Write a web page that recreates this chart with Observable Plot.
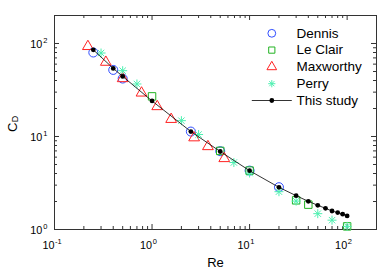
<!DOCTYPE html>
<html>
<head>
<meta charset="utf-8">
<script src="https://cdn.jsdelivr.net/npm/d3@7"></script>
<script src="https://cdn.jsdelivr.net/npm/@observablehq/plot@0.6"></script>
<style>
  html, body { margin: 0; padding: 0; background: white; }
  #chart svg { display: block; }
</style>
</head>
<body>
<div id="chart"></div>
<script>
// ---- data ----
const dennisRe = [0.25, 0.4, 0.5, 2.5, 5, 10, 20];
const dennisCd = [80, 52, 42, 11.3, 6.95, 4.3, 2.85];

const leClairRe = [1, 5, 10, 30, 40, 100];
const leClairCd = [27, 7.0, 4.3, 2.06, 1.85, 1.08];

const maxworthyRe = [0.22, 0.336, 0.5, 0.78, 1.13, 1.57, 2.7, 3.74, 5.5];
const maxworthyCd = [93, 63, 42, 29.4, 21, 15.3, 9.7, 7.8, 5.8];

const perryRe = [0.3, 0.5, 0.7, 2, 3, 6.9, 10, 20, 30, 50, 70, 100];
const perryCd = [79, 51, 36.7, 14.8, 10.5, 5.25, 4.05, 2.55, 2.02, 1.48, 1.26, 1.08];

const studyRe = [0.25, 0.4, 0.5, 1, 2.5, 5, 10, 20, 30, 40, 50, 60, 70, 80, 90, 100];
const studyCd = [85.5, 54, 44.3, 24.1, 11.3, 6.9, 4.29, 2.84, 2.31, 2.01, 1.82, 1.69, 1.58, 1.52, 1.46, 1.40];

const legendNames = ["Dennis", "Le Clair", "Maxworthy", "Perry", "This study"];

const xTickValues = [0.1, 1, 10, 100];
const xTickExponents = ["-1", "0", "1", "2"];
const yTickValues = [1, 10, 100];
const yTickExponents = ["0", "1", "2"];
const xMinorTicks = [0.2, 0.3, 0.4, 0.5, 0.6, 0.7, 0.8, 0.9, 2, 3, 4, 5, 6, 7, 8, 9, 20, 30, 40, 50, 60, 70, 80, 90];
const yMinorTicks = [2, 3, 4, 5, 6, 7, 8, 9, 20, 30, 40, 50, 60, 70, 80, 90];

const xLabel = "Re";
const yLabelMain = "C";
const yLabelSub = "D";

// ---- layout / style ----
const W = 386, H = 272, mL = 54, mR = 10, mT = 15, mB = 43;
const plotW = W - mL - mR, plotH = H - mT - mB;
const axisColor = "#333";
const colors = {
  dennis: "#2f4dff",
  leclair: "#22b322",
  maxworthy: "#ff2222",
  perry: "#4df0b0",
  study: "#000"
};

const toRows = (xs, ys) => xs.map((x, i) => ({x, y: ys[i]}));
const dennis = toRows(dennisRe, dennisCd);
const leclair = toRows(leClairRe, leClairCd);
const maxworthy = toRows(maxworthyRe, maxworthyCd);
const perry = toRows(perryRe, perryCd);
const study = toRows(studyRe, studyCd);

const asterisk8 = {
  draw(ctx, size) {
    const r = Math.sqrt(size / Math.PI);
    const d = r * Math.SQRT1_2;
    ctx.moveTo(-r, 0); ctx.lineTo(r, 0);
    ctx.moveTo(0, -r); ctx.lineTo(0, r);
    ctx.moveTo(-d, -d); ctx.lineTo(d, d);
    ctx.moveTo(-d, d); ctx.lineTo(d, -d);
  }
};
const hline = {
  draw(ctx) { ctx.moveTo(-20, 0); ctx.lineTo(20, 0); }
};

const legendStyles = [
  {symbol: "circle", stroke: colors.dennis, r: 3.9},
  {symbol: "square", stroke: colors.leclair, r: 3.5},
  {symbol: "triangle", stroke: colors.maxworthy, r: 3.6},
  {symbol: asterisk8, stroke: colors.perry, r: 3.6}
];

const tickFont = 10.8, expFont = 7.5;
const legendX = 217.3, legendTextX = 242, legendY0 = 17.8, legendDy = 16.8;

const legendMarks = [];
legendNames.forEach((name, i) => {
  const dy = legendY0 + i * legendDy;
  if (i < 4) {
    const s = legendStyles[i];
    legendMarks.push(Plot.dot([name], {frameAnchor: "top-left", dx: legendX, dy, symbol: s.symbol, r: s.r, stroke: s.stroke, fill: "none", strokeWidth: 1}));
  } else {
    legendMarks.push(Plot.dot([name], {frameAnchor: "top-left", dx: legendX, dy, symbol: hline, r: 5, stroke: "black", fill: "none", strokeWidth: 0.8}));
    legendMarks.push(Plot.dot([name], {frameAnchor: "top-left", dx: legendX, dy, r: 2.4, fill: "black", stroke: "none"}));
  }
  legendMarks.push(Plot.text([name], {frameAnchor: "top-left", dx: legendTextX, dy, text: d => d, textAnchor: "start", lineAnchor: "middle", fontSize: 13.5, fill: "black"}));
});

const chart = Plot.plot({
  width: W, height: H,
  marginLeft: mL, marginRight: mR, marginTop: mT, marginBottom: mB,
  style: {fontFamily: "'Liberation Sans', Arial, Helvetica, sans-serif", background: "white", color: "black"},
  x: {type: "log", domain: [0.1, 200], axis: null},
  y: {type: "log", domain: [1, 200], axis: null},
  marks: [
    // inward ticks on four sides
    Plot.tickX(xTickValues, {x: d => d, insetTop: plotH - 5, stroke: axisColor}),
    Plot.tickX(xTickValues, {x: d => d, insetBottom: plotH - 5, stroke: axisColor}),
    Plot.tickX(xMinorTicks, {x: d => d, insetTop: plotH - 3, stroke: axisColor}),
    Plot.tickX(xMinorTicks, {x: d => d, insetBottom: plotH - 3, stroke: axisColor}),
    Plot.tickY(yTickValues, {y: d => d, insetRight: plotW - 5, stroke: axisColor}),
    Plot.tickY(yTickValues, {y: d => d, insetLeft: plotW - 5, stroke: axisColor}),
    Plot.tickY(yMinorTicks, {y: d => d, insetRight: plotW - 3, stroke: axisColor}),
    Plot.tickY(yMinorTicks, {y: d => d, insetLeft: plotW - 3, stroke: axisColor}),
    Plot.frame({stroke: axisColor, strokeWidth: 1}),

    // tick labels (10 with superscript exponent)
    Plot.text(xTickValues, {x: d => d, frameAnchor: "bottom", text: () => "10", textAnchor: "end", lineAnchor: "bottom", dy: 19.5, fontSize: tickFont}),
    Plot.text(xTickValues, {x: d => d, frameAnchor: "bottom", text: (d, i) => xTickExponents[i], textAnchor: "start", lineAnchor: "bottom", dx: 0.6, dy: 14, fontSize: expFont}),
    Plot.text(yTickValues, {y: d => d, frameAnchor: "left", text: () => "10", textAnchor: "end", lineAnchor: "bottom", dx: -12.3, dy: 4.6, fontSize: tickFont}),
    Plot.text(yTickValues, {y: d => d, frameAnchor: "left", text: (d, i) => yTickExponents[i], textAnchor: "start", lineAnchor: "bottom", dx: -11.3, dy: -0.2, fontSize: expFont}),

    // axis labels
    Plot.text([xLabel], {frameAnchor: "bottom", text: d => d, lineAnchor: "bottom", dy: 37.5, fontSize: 13}),
    Plot.text([yLabelMain], {frameAnchor: "left", text: d => d, rotate: -90, textAnchor: "middle", lineAnchor: "bottom", dx: -38, dy: 4.7, fontSize: 13}),
    Plot.text([yLabelSub], {frameAnchor: "left", text: d => d, rotate: -90, textAnchor: "start", lineAnchor: "bottom", dx: -36.6, dy: -0.3, fontSize: 9}),

    // data series
    Plot.dot(dennis, {x: "x", y: "y", symbol: "circle", r: 4.5, stroke: colors.dennis, fill: "none", strokeWidth: 1}),
    Plot.dot(leclair, {x: "x", y: "y", symbol: "square", r: 4.2, stroke: colors.leclair, fill: "none", strokeWidth: 1}),
    Plot.dot(maxworthy, {x: "x", y: "y", symbol: "triangle", r: 4.0, stroke: colors.maxworthy, fill: "none", strokeWidth: 1}),
    Plot.dot(perry, {x: "x", y: "y", symbol: asterisk8, r: 4.5, stroke: colors.perry, fill: "none", strokeWidth: 1}),
    Plot.line(study, {x: "x", y: "y", stroke: colors.study, strokeWidth: 0.8}),
    Plot.dot(study, {x: "x", y: "y", r: 2.4, fill: colors.study, stroke: "none"}),

    ...legendMarks
  ]
});

document.getElementById("chart").appendChild(chart);
</script>
</body>
</html>
